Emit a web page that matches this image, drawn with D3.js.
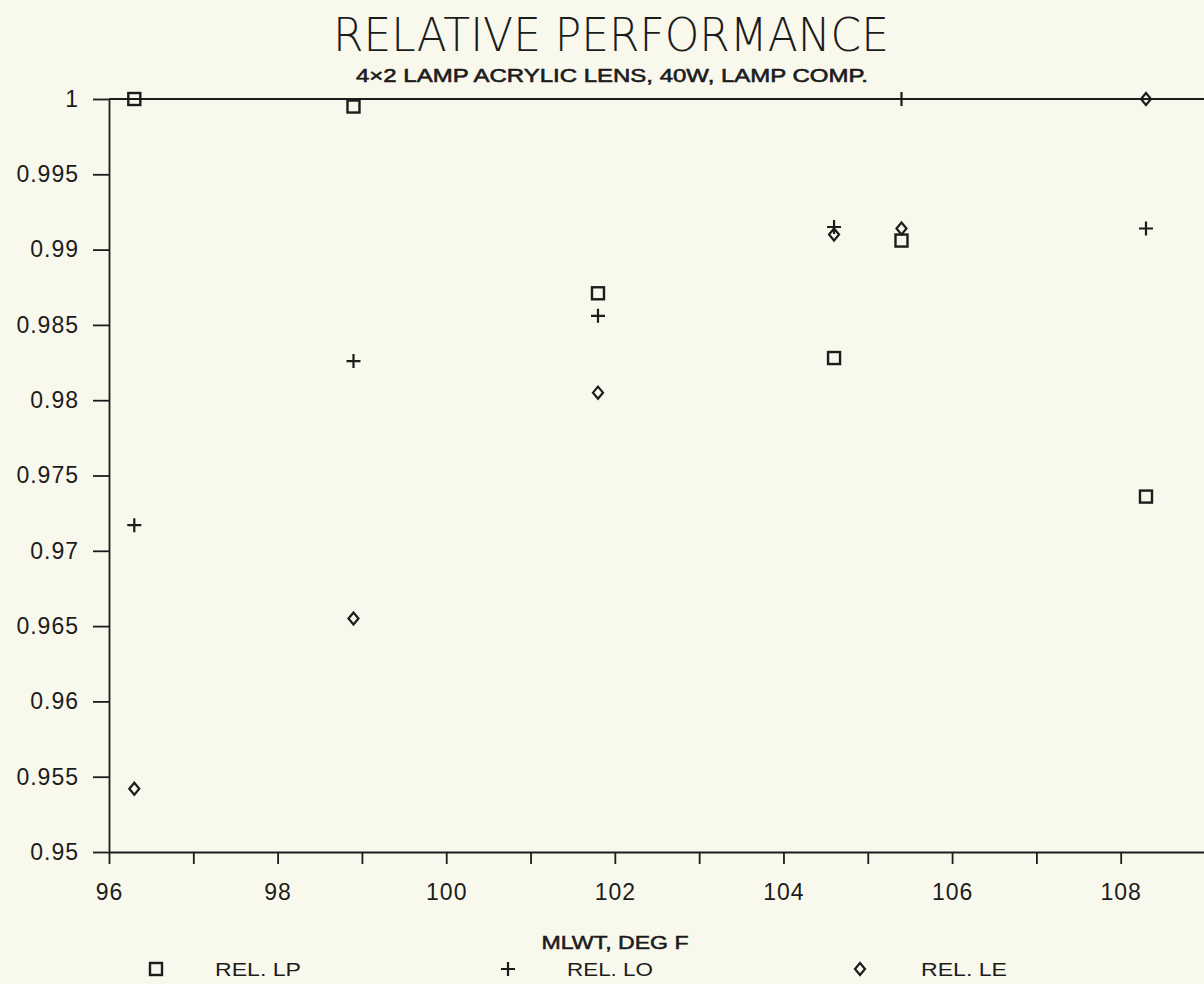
<!DOCTYPE html>
<html>
<head>
<meta charset="utf-8">
<script src="https://cdn.jsdelivr.net/npm/d3@7"></script>
<style>
  body { margin: 0; background: #f9f8ec; }
  svg { display: block; }
</style>
</head>
<body>
<svg id="chart" width="1204" height="984"></svg>
<script>
// data
const temps = [96.3, 98.9, 101.8, 104.6, 105.4, 108.3];
const relLP = [1.0, 0.9995, 0.9871, 0.9828, 0.9906, 0.9736];
const relLO = [0.9717, 0.9826, 0.9856, 0.9915, 1.0, 0.9914];
const relLE = [0.9542, 0.9655, 0.9805, 0.9910, 0.9914, 1.0];

const seriesNames = ['REL. LP', 'REL. LO', 'REL. LE'];
const seriesSymbols = ['square', 'plus', 'diamond'];

const xTicks = [96, 97, 98, 99, 100, 101, 102, 103, 104, 105, 106, 107, 108];
const xTickLabels = ['96', '', '98', '', '100', '', '102', '', '104', '', '106', '', '108'];
const yTicks = [0.95, 0.955, 0.96, 0.965, 0.97, 0.975, 0.98, 0.985, 0.99, 0.995, 1];
const yTickLabels = ['0.95', '0.955', '0.96', '0.965', '0.97', '0.975', '0.98', '0.985', '0.99', '0.995', '1'];

const ink = '#1c1c1c';
const thinFont = '"DejaVu Sans", "Liberation Sans", sans-serif';
const plainFont = '"Liberation Sans", Arial, sans-serif';

const svg = d3.select('#chart');

const x = d3.scaleLinear().domain([96, 109]).range([109, 1205]);
const y = d3.scaleLinear().domain([0.95, 1]).range([852, 99]);

// titles
svg.append('text')
  .attr('x', 611).attr('y', 51)
  .attr('text-anchor', 'middle')
  .attr('textLength', 556).attr('lengthAdjust', 'spacingAndGlyphs')
  .style('font-family', thinFont).style('font-weight', 200)
  .style('font-size', '47px').attr('fill', ink)
  .text('RELATIVE PERFORMANCE');

svg.append('text')
  .attr('x', 612).attr('y', 82)
  .attr('text-anchor', 'middle')
  .attr('textLength', 512).attr('lengthAdjust', 'spacingAndGlyphs')
  .style('font-family', plainFont)
  .style('font-size', '19px').attr('fill', ink)
  .attr('stroke', ink).attr('stroke-width', 0.6)
  .text('4\u00d72 LAMP ACRYLIC LENS, 40W, LAMP COMP.');

// axes
const xAxis = d3.axisBottom(x)
  .tickValues(xTicks)
  .tickFormat((d, i) => xTickLabels[i])
  .tickSize(12).tickSizeOuter(0).tickPadding(20);

const yAxis = d3.axisLeft(y)
  .tickValues(yTicks)
  .tickFormat((d, i) => yTickLabels[i])
  .tickSize(16).tickSizeOuter(0).tickPadding(14);

const gx = svg.append('g').attr('transform', `translate(0,${y(0.95)})`).call(xAxis);
const gy = svg.append('g').attr('transform', `translate(${x(96)},0)`).call(yAxis);

[gx, gy].forEach(g => {
  g.selectAll('path, line').attr('stroke', ink).attr('stroke-width', 1.8);
  g.selectAll('text')
    .attr('fill', ink)
    .style('font-family', plainFont)
    .style('font-size', '23px')
    .style('letter-spacing', '1px');
});

// top frame line
svg.append('line')
  .attr('x1', x(96)).attr('x2', x(109))
  .attr('y1', y(1)).attr('y2', y(1))
  .attr('stroke', ink).attr('stroke-width', 2);

// x axis title
svg.append('text')
  .attr('x', 615).attr('y', 949)
  .attr('text-anchor', 'middle')
  .attr('textLength', 147).attr('lengthAdjust', 'spacingAndGlyphs')
  .style('font-family', plainFont)
  .style('font-size', '18px').attr('fill', ink)
  .attr('stroke', ink).attr('stroke-width', 0.5)
  .text('MLWT, DEG F');

// marker shapes
function drawMarker(g, type, cx, cy) {
  if (type === 'square') {
    g.append('rect')
      .attr('x', cx - 6).attr('y', cy - 6)
      .attr('width', 12).attr('height', 12)
      .attr('fill', 'none').attr('stroke', ink).attr('stroke-width', 2.4);
  } else if (type === 'plus') {
    g.append('path')
      .attr('d', `M${cx - 7},${cy}H${cx + 7}M${cx},${cy - 7}V${cy + 7}`)
      .attr('fill', 'none').attr('stroke', ink).attr('stroke-width', 2.2);
  } else {
    g.append('path')
      .attr('d', `M${cx},${cy - 6}L${cx + 5},${cy}L${cx},${cy + 6}L${cx - 5},${cy}Z`)
      .attr('fill', 'none').attr('stroke', ink).attr('stroke-width', 2.2);
  }
}

const seriesValues = [relLP, relLO, relLE];
const marks = svg.append('g');
seriesValues.forEach((vals, s) => {
  vals.forEach((v, i) => drawMarker(marks, seriesSymbols[s], x(temps[i]), y(v)));
});

// legend
const legendSymX = [156, 508, 860];
const legendTextX = [215, 567, 921];
const legend = svg.append('g');
seriesNames.forEach((name, s) => {
  drawMarker(legend, seriesSymbols[s], legendSymX[s], 969);
  legend.append('text')
    .attr('x', legendTextX[s]).attr('y', 976)
    .attr('textLength', 86).attr('lengthAdjust', 'spacingAndGlyphs')
    .style('font-family', plainFont)
    .style('font-size', '19px').attr('fill', ink)
    .text(name);
});
</script>
</body>
</html>
